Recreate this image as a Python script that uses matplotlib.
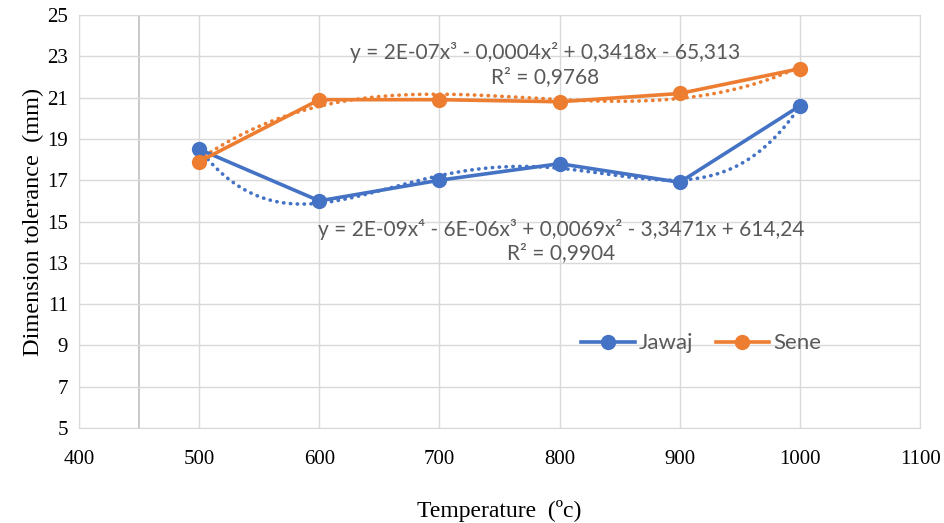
import numpy as np
import matplotlib
matplotlib.use("Agg")
import matplotlib.pyplot as plt

temp = [500, 600, 700, 800, 900, 1000]
jawaj = [18.5, 16.0, 17.0, 17.8, 16.9, 20.6]
sene = [17.9, 20.9, 20.9, 20.8, 21.2, 22.4]
series_names = ["Jawaj", "Sene"]
eq_sene = "y = 2E-07x³ - 0,0004x² + 0,3418x - 65,313\nR² = 0,9768"
eq_jawaj = "y = 2E-09x⁴ - 6E-06x³ + 0,0069x² - 3,3471x + 614,24\nR² = 0,9904"

blue = "#4472C4"
orange = "#ED7D31"
gray_txt = "#595959"
serif = ["Liberation Serif", "DejaVu Serif"]
sans = ["Lato", "DejaVu Sans"]

fig = plt.figure(figsize=(9.45, 5.23), dpi=100)
ax = fig.add_axes([0.0836, 0.1816, 0.89, 0.7897])

# polynomial trendlines (as excel: order 4 for Jawaj, order 3 for Sene)
xs = np.linspace(500, 1000, 200)
pj = np.polyfit(temp, jawaj, 4)
ps = np.polyfit(temp, sene, 3)
dots = (0, (0.1, 1.8))
ax.plot(xs, np.polyval(pj, xs), ls=dots, color=blue, lw=2.6, dash_capstyle="round", zorder=3)
ax.plot(xs, np.polyval(ps, xs), ls=dots, color=orange, lw=2.6, dash_capstyle="round", zorder=3)

ax.plot(temp, jawaj, "-o", color=blue, lw=2.6, ms=10, label=series_names[0], zorder=4)
ax.plot(temp, sene, "-o", color=orange, lw=2.6, ms=10, label=series_names[1], zorder=4)

ax.set_xlim(400, 1100)
ax.set_ylim(5, 25)
ax.set_xticks(range(400, 1101, 100))
ax.set_yticks(range(5, 26, 2))
ax.grid(True, color="#D9D9D9", lw=1)
ax.axvline(450, color="#BFBFBF", lw=1.2, zorder=1)
for s in ax.spines.values():
    s.set_color("#D9D9D9")
ax.tick_params(length=0, labelsize=15, pad=8)
ax.tick_params(axis="x", pad=16)
for lab in ax.get_xticklabels() + ax.get_yticklabels():
    lab.set_family(serif)

ax.set_xlabel("Temperature  (ºc)", family=serif, fontsize=17, labelpad=22)
ax.set_ylabel("Dimension tolerance  (mm)", family=serif, fontsize=17.5, labelpad=2)

ax.text(788, 22.6, eq_sene, ha="center", va="center", fontsize=15,
        color=gray_txt, family=sans, linespacing=1.2)
ax.text(801, 14.05, eq_jawaj, ha="center", va="center", fontsize=15,
        color=gray_txt, family=sans, linespacing=1.2)

leg = ax.legend(loc="center", bbox_to_anchor=(0.74, 0.205), ncol=2, frameon=False,
                prop={"family": sans, "size": 16}, handlelength=2.4,
                handletextpad=0.2, columnspacing=1.0)
for t in leg.get_texts():
    t.set_color(gray_txt)

fig.savefig("out.png", dpi=100)
